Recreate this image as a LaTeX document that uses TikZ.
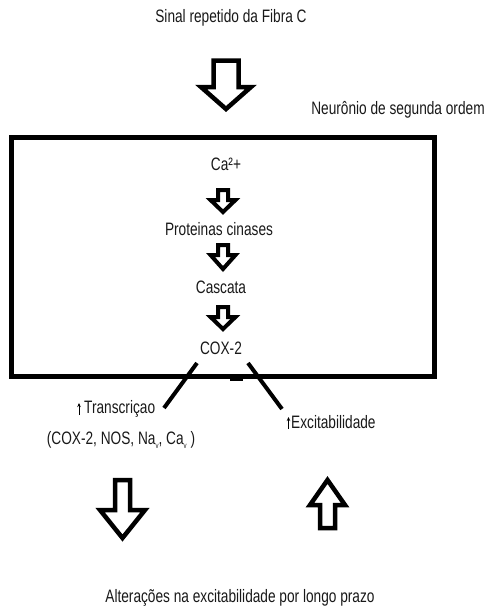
\documentclass[tikz,border=0pt]{standalone}
\usepackage{fontspec}
\setmainfont[FakeStretch=0.76]{Liberation Sans}
\usetikzlibrary{arrows.meta}
\tikzset{
  lbl/.style={inner sep=0pt, font=\fontsize{18}{20}\selectfont, text=black!90},
  blockarrow/.style={draw=black, line width=4.5pt, line join=miter, fill=white},
  boxline/.style={draw=black, line width=5pt},
  diag/.style={draw=black, line width=4pt},
  tinyup/.style={draw=black, line width=0.8pt, -{Stealth[length=4pt,width=3.5pt]}}
}
\begin{document}
\begin{tikzpicture}[x=1pt,y=-1pt]
\useasboundingbox (0,0) rectangle (490,608);
% texts
\node[lbl] (title) at (231,18) {Sinal repetido da Fibra C};
\node[lbl] (neur) at (398,110) {Neurônio de segunda ordem};
\node[lbl] (ca) at (226,164) {Ca²+};
\node[lbl] (prot) at (219,229) {Proteinas cinases};
\node[lbl] (casc) at (221,287) {Cascata};
\node[lbl] (cox) at (221,348) {COX-2};
\node[lbl,anchor=west] (trans) at (84,409) {Transcriçao};
\node[lbl] (list) at (121,440) {(COX-2, NOS, Na\raisebox{-0.5ex}{\fontsize{8}{9}\selectfont v}, Ca\raisebox{-0.5ex}{\fontsize{8}{9}\selectfont v} )};
\node[lbl,anchor=west] (exc) at (291,422) {Excitabilidade};
\node[lbl] (alt) at (240,598) {Alterações na excitabilidade por longo prazo};
% small up arrows
\coordinate (ta1) at ([xshift=-5pt,yshift=-6pt]trans.west);
\coordinate (ta2) at ([xshift=-5pt,yshift=6pt]trans.west);
\draw[tinyup] (ta1) -- (ta2);
\coordinate (ea1) at ([xshift=-2.5pt,yshift=-7pt]exc.west);
\coordinate (ea2) at ([xshift=-2.5pt,yshift=5pt]exc.west);
\draw[tinyup] (ea1) -- (ea2);
% box
\draw[boxline] (11.5,137.5) rectangle (434,376);
\draw[black, line width=2pt] (230,379.5) -- (243,379.5);
% top block arrow
\draw[blockarrow] (213.5,60.5) -- (238.5,60.5) -- (238.5,87) -- (251,87) -- (226,109) -- (201,87) -- (213.5,87) -- cycle;
% small block arrows
\foreach \t/\b/\p in {190/200/212, 245/255/269, 307/317/329}{
  \draw[blockarrow, line width=4pt] (218,\t) -- (228,\t) -- (228,\b) -- (235.5,\b) -- (223,\p) -- (210.5,\b) -- (218,\b) -- cycle;
}
% diagonals
\coordinate (dl1) at (197,363);
\coordinate (dl2) at (164,408);
\coordinate (dr1) at (248,363);
\coordinate (dr2) at (282,409);
\draw[diag] (dl1) -- (dl2);
\draw[diag] (dr1) -- (dr2);
% bottom arrows
\draw[blockarrow] (115,480) -- (130,480) -- (130,510) -- (145,510) -- (122.5,538) -- (100,510) -- (115,510) -- cycle;
\draw[blockarrow] (320,528) -- (335,528) -- (335,505) -- (345,505) -- (327.5,480) -- (310,505) -- (320,505) -- cycle;
\end{tikzpicture}
\end{document}
